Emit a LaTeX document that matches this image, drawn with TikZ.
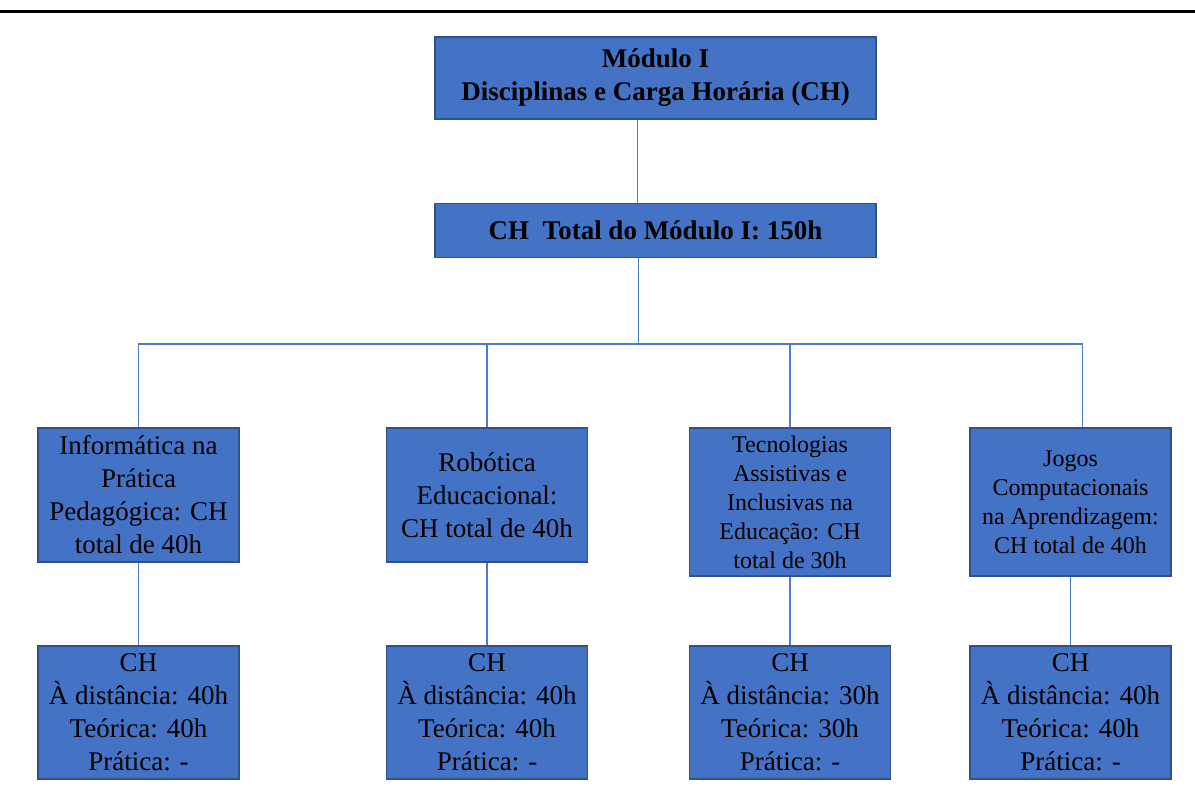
\documentclass[tikz,border=0pt]{standalone}
\usepackage{fontspec}
\setmainfont{Liberation Serif}
\definecolor{boxfill}{HTML}{4472C4}
\definecolor{boxedge}{HTML}{2F528F}
\definecolor{linkblue}{HTML}{4F7BCB}

\begin{document}
\begin{tikzpicture}[x=0.5pt,y=-0.5pt,
        box/.style={draw=boxedge, fill=boxfill, line width=0.7pt, align=center,
            inner sep=0pt, font=\fontsize{13.5}{16.5}\selectfont},
        topbox/.style={box, minimum width=220.5pt,
            font=\fontsize{13.5}{16.5}\selectfont\bfseries},
        discbox/.style={box, minimum width=100.5pt},
        small/.style={font=\fontsize{12}{14.5}\selectfont},
        link/.style={draw=linkblue, line width=0.75pt}]
            \useasboundingbox (0,0) rectangle (1195,805);
            \draw[line width=1.5pt] (0,11) -- (1195,11);

            \node[topbox, minimum height=41pt] (modulo) at (655.5,78) {Módulo I\\Disciplinas e Carga Horária (CH)};
            \node[topbox, minimum height=27pt] (total) at (655.5,230.5) {CH\ \ Total do Módulo I: 150h};

            % disciplinas
            \node[discbox, minimum height=67pt] (info) at (138.5,495) {Informática na\\Prática\\Pedagógica: CH\\total de 40h};
            \node[discbox, minimum height=67pt] (robo) at (487,495) {Robótica\\Educacional:\\CH total de 40h};
            \node[discbox, small, minimum height=74pt] (tecno) at (790,502) {Tecnologias\\Assistivas e\\Inclusivas na\\Educação: CH\\total de 30h};
            \node[discbox, small, minimum height=74pt] (jogos) at (1070.5,502) {Jogos\\Computacionais\\na Aprendizagem:\\CH total de 40h};

            % carga horaria
            \node[discbox, minimum height=66.5pt] (info-ch) at (138.5,712.5) {CH\\À distância: 40h\\Teórica: 40h\\Prática: -};
            \node[discbox, minimum height=66.5pt] (robo-ch) at (487,712.5) {CH\\À distância: 40h\\Teórica: 40h\\Prática: -};
            \node[discbox, minimum height=66.5pt] (tecno-ch) at (790,712.5) {CH\\À distância: 30h\\Teórica: 30h\\Prática: -};
            \node[discbox, minimum height=66.5pt] (jogos-ch) at (1070.5,712.5) {CH\\À distância: 40h\\Teórica: 40h\\Prática: -};

            \coordinate (bus) at (0,344);
            \coordinate (total-out) at ([xshift=-8.5pt]total.south);
            \coordinate (jogos-in) at ([xshift=6pt]jogos.north);

            \draw[link] ([xshift=-9pt]modulo.south) -- ([xshift=-9pt]total.north);
            \draw[link] (total-out) -- (total-out |- bus);
            \draw[link] (info.north) -- (info.north |- bus) -- (jogos-in |- bus) -- (jogos-in);
            \foreach \n in {robo, tecno}
                \draw[link] (\n.north) -- (\n.north |- bus);
            \foreach \n in {info, robo, tecno, jogos}
                \draw[link] (\n.south) -- (\n-ch.north);
        \end{tikzpicture}
\end{document}
